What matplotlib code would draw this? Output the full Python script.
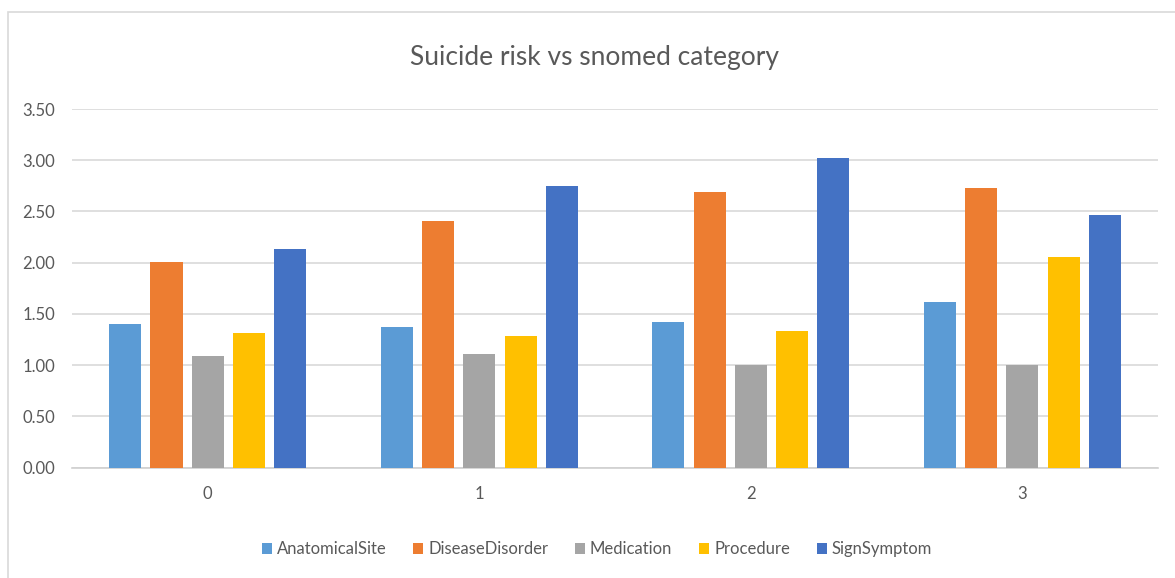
import numpy as np
import matplotlib
matplotlib.use("Agg")
import matplotlib.pyplot as plt
from matplotlib.patches import Rectangle

plt.rcParams['font.family'] = ['Lato', 'DejaVu Sans']

# risk level groups and mean snomed-category scores
categories = ["0", "1", "2", "3"]
series_names = ["AnatomicalSite", "DiseaseDisorder", "Medication", "Procedure", "SignSymptom"]
anatomical_site = [1.40, 1.37, 1.42, 1.62]
disease_disorder = [2.01, 2.41, 2.69, 2.73]
medication = [1.09, 1.11, 1.00, 1.00]
procedure = [1.31, 1.29, 1.33, 2.06]
sign_symptom = [2.13, 2.75, 3.02, 2.47]
yticks = [0.0, 0.5, 1.0, 1.5, 2.0, 2.5, 3.0, 3.5]

values = [anatomical_site, disease_disorder, medication, procedure, sign_symptom]
colors = ['#5B9BD5', '#ED7D31', '#A5A5A5', '#FFC000', '#4472C4']
text_col = '#595959'

fig = plt.figure(figsize=(11.75, 5.78), dpi=100)
ax = fig.add_axes([0.0613, 0.1908, 0.9243, 0.6206])

# chart frame (left and top edges)
fig.patches.append(Rectangle((8 / 1175, -0.1), 1.2, 1 - 12 / 578 + 0.1,
                             transform=fig.transFigure, fill=False,
                             edgecolor='#d9d9d9', linewidth=1.2))

x = np.arange(len(categories))
pitch = 0.152
width = 0.118
for i, (name, vals, c) in enumerate(zip(series_names, values, colors)):
    ax.bar(x + (i - 2) * pitch, vals, width, color=c, label=name, zorder=3)

ax.set_xlim(-0.5, len(categories) - 0.5)
ax.set_ylim(0, 3.5)
ax.set_yticks(yticks)
ax.set_yticklabels([f"{t:.2f}" for t in yticks], fontsize=12, color=text_col)
ax.set_xticks(x)
ax.set_xticklabels(categories, fontsize=12, color=text_col)
ax.tick_params(axis='both', length=0)
ax.tick_params(axis='y', pad=12)
ax.tick_params(axis='x', pad=13)
ax.grid(axis='y', color='#d9d9d9', linewidth=1.2, zorder=0)
for s in ['top', 'right', 'left']:
    ax.spines[s].set_visible(False)
ax.spines['bottom'].set_color('#d0d0d0')
ax.spines['bottom'].set_linewidth(1.2)

fig.text(0.506, 0.90, "Suicide risk vs snomed category", ha='center', va='center',
         fontsize=19, color=text_col)

fig.legend(loc='center', bbox_to_anchor=(0.508, 0.05), ncol=5, frameon=False,
           fontsize=12, handlelength=0.6, handleheight=0.6, handletextpad=0.3,
           columnspacing=1.6, labelcolor=text_col)

fig.savefig("out.png", dpi=100)
